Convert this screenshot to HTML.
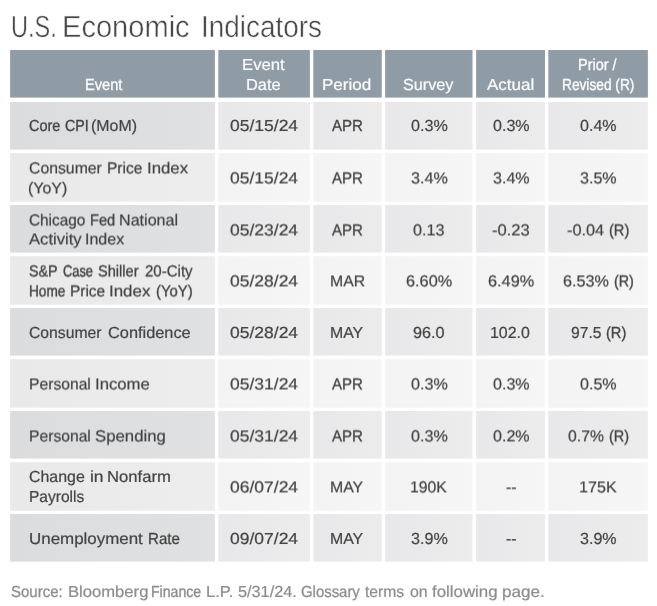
<!DOCTYPE html>
<html lang="en"><head><meta charset="utf-8"><title>U.S. Economic Indicators</title>
<style>
html,body{margin:0;padding:0;background:#fff;}
body{text-rendering:geometricPrecision;width:657px;height:606px;position:relative;overflow:hidden;font-family:"Liberation Sans", sans-serif;}
.bg{position:absolute;left:0;top:0;}
.tx{position:absolute;left:0;top:0;width:657px;height:606px;overflow:hidden;filter:url(#soft);}
.t2{filter:url(#soft2);}
.t{position:absolute;-webkit-text-stroke:0.2px currentColor;white-space:nowrap;display:inline-block;transform-origin:0 0;}
</style></head><body>
<svg width="0" height="0" style="position:absolute"><defs><filter id="soft" x="0" y="0" width="100%" height="100%" color-interpolation-filters="sRGB"><feConvolveMatrix order="3" kernelMatrix="0.0004 0.0194 0.0004 0.0194 0.9206 0.0194 0.0004 0.0194 0.0004" edgeMode="duplicate" preserveAlpha="false"/></filter><filter id="soft2" x="0" y="0" width="100%" height="100%" color-interpolation-filters="sRGB"><feConvolveMatrix order="3" kernelMatrix="0.0000 0.0000 0.0000 0.0111 0.5277 0.0111 0.0091 0.4318 0.0091" edgeMode="duplicate" preserveAlpha="false"/></filter></defs></svg>
<div class="tx">
<svg class="bg" width="657" height="606" viewBox="0 0 657 606"><defs><linearGradient id="a1" x1="0" y1="0" x2="1" y2="0"><stop offset="0" stop-color="#dbdcde"/><stop offset="1" stop-color="#e0e1e3"/></linearGradient><linearGradient id="a2" x1="0" y1="0" x2="1" y2="0"><stop offset="0" stop-color="#e8e8ea"/><stop offset="1" stop-color="#ececed"/></linearGradient><linearGradient id="b1" x1="0" y1="0" x2="1" y2="0"><stop offset="0" stop-color="#e9e9ea"/><stop offset="1" stop-color="#ededee"/></linearGradient><linearGradient id="b2" x1="0" y1="0" x2="1" y2="0"><stop offset="0" stop-color="#f3f3f4"/><stop offset="1" stop-color="#f6f6f6"/></linearGradient></defs>
<rect x="10.1" y="50.0" width="204.8" height="47.6" fill="#8f9ca6"/>
<rect x="218.3" y="50.0" width="91.6" height="47.6" fill="#8f9ca6"/>
<rect x="313.3" y="50.0" width="68.5" height="47.6" fill="#8f9ca6"/>
<rect x="385.1" y="50.0" width="87.4" height="47.6" fill="#8f9ca6"/>
<rect x="476.1" y="50.0" width="68.9" height="47.6" fill="#8f9ca6"/>
<rect x="548.3" y="50.0" width="99.6" height="47.6" fill="#8f9ca6"/>
<rect x="10.1" y="102.0" width="204.8" height="47.6" fill="url(#a1)"/>
<rect x="218.3" y="102.0" width="91.6" height="47.6" fill="url(#a2)"/>
<rect x="313.3" y="102.0" width="68.5" height="47.6" fill="url(#a2)"/>
<rect x="385.1" y="102.0" width="87.4" height="47.6" fill="url(#a2)"/>
<rect x="476.1" y="102.0" width="68.9" height="47.6" fill="url(#a2)"/>
<rect x="548.3" y="102.0" width="99.6" height="47.6" fill="url(#a2)"/>
<rect x="10.1" y="153.2" width="204.8" height="48.5" fill="url(#b1)"/>
<rect x="218.3" y="153.2" width="91.6" height="48.5" fill="url(#b2)"/>
<rect x="313.3" y="153.2" width="68.5" height="48.5" fill="url(#b2)"/>
<rect x="385.1" y="153.2" width="87.4" height="48.5" fill="url(#b2)"/>
<rect x="476.1" y="153.2" width="68.9" height="48.5" fill="url(#b2)"/>
<rect x="548.3" y="153.2" width="99.6" height="48.5" fill="url(#b2)"/>
<rect x="10.1" y="205.0" width="204.8" height="47.6" fill="url(#a1)"/>
<rect x="218.3" y="205.0" width="91.6" height="47.6" fill="url(#a2)"/>
<rect x="313.3" y="205.0" width="68.5" height="47.6" fill="url(#a2)"/>
<rect x="385.1" y="205.0" width="87.4" height="47.6" fill="url(#a2)"/>
<rect x="476.1" y="205.0" width="68.9" height="47.6" fill="url(#a2)"/>
<rect x="548.3" y="205.0" width="99.6" height="47.6" fill="url(#a2)"/>
<rect x="10.1" y="256.2" width="204.8" height="48.5" fill="url(#b1)"/>
<rect x="218.3" y="256.2" width="91.6" height="48.5" fill="url(#b2)"/>
<rect x="313.3" y="256.2" width="68.5" height="48.5" fill="url(#b2)"/>
<rect x="385.1" y="256.2" width="87.4" height="48.5" fill="url(#b2)"/>
<rect x="476.1" y="256.2" width="68.9" height="48.5" fill="url(#b2)"/>
<rect x="548.3" y="256.2" width="99.6" height="48.5" fill="url(#b2)"/>
<rect x="10.1" y="308.0" width="204.8" height="47.6" fill="url(#a1)"/>
<rect x="218.3" y="308.0" width="91.6" height="47.6" fill="url(#a2)"/>
<rect x="313.3" y="308.0" width="68.5" height="47.6" fill="url(#a2)"/>
<rect x="385.1" y="308.0" width="87.4" height="47.6" fill="url(#a2)"/>
<rect x="476.1" y="308.0" width="68.9" height="47.6" fill="url(#a2)"/>
<rect x="548.3" y="308.0" width="99.6" height="47.6" fill="url(#a2)"/>
<rect x="10.1" y="359.2" width="204.8" height="48.5" fill="url(#b1)"/>
<rect x="218.3" y="359.2" width="91.6" height="48.5" fill="url(#b2)"/>
<rect x="313.3" y="359.2" width="68.5" height="48.5" fill="url(#b2)"/>
<rect x="385.1" y="359.2" width="87.4" height="48.5" fill="url(#b2)"/>
<rect x="476.1" y="359.2" width="68.9" height="48.5" fill="url(#b2)"/>
<rect x="548.3" y="359.2" width="99.6" height="48.5" fill="url(#b2)"/>
<rect x="10.1" y="411.0" width="204.8" height="47.6" fill="url(#a1)"/>
<rect x="218.3" y="411.0" width="91.6" height="47.6" fill="url(#a2)"/>
<rect x="313.3" y="411.0" width="68.5" height="47.6" fill="url(#a2)"/>
<rect x="385.1" y="411.0" width="87.4" height="47.6" fill="url(#a2)"/>
<rect x="476.1" y="411.0" width="68.9" height="47.6" fill="url(#a2)"/>
<rect x="548.3" y="411.0" width="99.6" height="47.6" fill="url(#a2)"/>
<rect x="10.1" y="462.2" width="204.8" height="48.5" fill="url(#b1)"/>
<rect x="218.3" y="462.2" width="91.6" height="48.5" fill="url(#b2)"/>
<rect x="313.3" y="462.2" width="68.5" height="48.5" fill="url(#b2)"/>
<rect x="385.1" y="462.2" width="87.4" height="48.5" fill="url(#b2)"/>
<rect x="476.1" y="462.2" width="68.9" height="48.5" fill="url(#b2)"/>
<rect x="548.3" y="462.2" width="99.6" height="48.5" fill="url(#b2)"/>
<rect x="10.1" y="514.0" width="204.8" height="47.6" fill="url(#a1)"/>
<rect x="218.3" y="514.0" width="91.6" height="47.6" fill="url(#a2)"/>
<rect x="313.3" y="514.0" width="68.5" height="47.6" fill="url(#a2)"/>
<rect x="385.1" y="514.0" width="87.4" height="47.6" fill="url(#a2)"/>
<rect x="476.1" y="514.0" width="68.9" height="47.6" fill="url(#a2)"/>
<rect x="548.3" y="514.0" width="99.6" height="47.6" fill="url(#a2)"/>
</svg>
<span class="t" style="-webkit-text-stroke:0.45px #fff;left:11.36px;top:9.00px;font-size:30.5px;line-height:36px;color:#454545;transform:scaleX(0.7713)">U.S.</span>
<span class="t" style="-webkit-text-stroke:0.45px #fff;left:62.29px;top:9.00px;font-size:30.5px;line-height:36px;color:#454545;transform:scaleX(0.9532)">Economic</span>
<span class="t" style="-webkit-text-stroke:0.45px #fff;left:200.87px;top:9.00px;font-size:30.5px;line-height:36px;color:#454545;transform:scaleX(0.9155)">Indicators</span>
<span class="t" style="-webkit-text-stroke-width:0.30px;left:85.49px;top:76.00px;font-size:16px;line-height:20px;color:#fdfdfe;transform:scaleX(0.9143)">Event</span>
<span class="t" style="left:241.76px;top:56.00px;font-size:16px;line-height:20px;color:#fdfdfe;transform:scaleX(1.0428)">Event</span>
<span class="t" style="left:246.27px;top:76.00px;font-size:16px;line-height:20px;color:#fdfdfe;transform:scaleX(1.0274)">Date</span>
<span class="t" style="left:322.44px;top:76.00px;font-size:16px;line-height:20px;color:#fdfdfe;transform:scaleX(1.0642)">Period</span>
<span class="t" style="left:403.40px;top:76.00px;font-size:16px;line-height:20px;color:#fdfdfe;transform:scaleX(1.0121)">Survey</span>
<span class="t" style="left:487.30px;top:76.00px;font-size:16px;line-height:20px;color:#fdfdfe;transform:scaleX(1.0612)">Actual</span>
<span class="t" style="-webkit-text-stroke-width:0.31px;left:577.90px;top:56.00px;font-size:16px;line-height:20px;color:#fdfdfe;transform:scaleX(0.9046)">Prior /</span>
<span class="t" style="-webkit-text-stroke-width:0.37px;left:561.74px;top:76.00px;font-size:16px;line-height:20px;color:#fdfdfe;transform:scaleX(0.8565)">Revised (R)</span>
<span class="t" style="-webkit-text-stroke-width:0.32px;left:29.00px;top:117.00px;font-size:16px;line-height:20px;color:#404040;transform:scaleX(0.9028)">Core</span>
<span class="t" style="-webkit-text-stroke-width:0.34px;left:64.80px;top:117.00px;font-size:16px;line-height:20px;color:#404040;transform:scaleX(0.8840)">CPI</span>
<span class="t" style="left:91.01px;top:117.00px;font-size:16px;line-height:20px;color:#404040;transform:scaleX(0.9937)">(MoM)</span>
<span class="t" style="left:229.65px;top:117.00px;font-size:16px;line-height:20px;color:#404040;transform:scaleX(1.0932)">05/15/24</span>
<span class="t" style="-webkit-text-stroke-width:0.27px;left:332.15px;top:117.00px;font-size:16px;line-height:20px;color:#404040;transform:scaleX(0.9399)">APR</span>
<span class="t" style="left:410.55px;top:117.00px;font-size:16px;line-height:20px;color:#404040;transform:scaleX(1.0099)">0.3%</span>
<span class="t" style="left:492.60px;top:117.00px;font-size:16px;line-height:20px;color:#404040;transform:scaleX(1.0044)">0.3%</span>
<span class="t" style="left:580.05px;top:117.00px;font-size:16px;line-height:20px;color:#404040;transform:scaleX(1.0044)">0.4%</span>
<span class="t" style="left:29.00px;top:324.00px;font-size:16px;line-height:20px;color:#404040;transform:scaleX(0.9829)">Consumer</span>
<span class="t" style="left:108.20px;top:324.00px;font-size:16px;line-height:20px;color:#404040;transform:scaleX(1.0216)">Confidence</span>
<span class="t" style="left:229.65px;top:324.00px;font-size:16px;line-height:20px;color:#404040;transform:scaleX(1.0932)">05/28/24</span>
<span class="t" style="left:330.11px;top:324.00px;font-size:16px;line-height:20px;color:#404040;transform:scaleX(0.9905)">MAY</span>
<span class="t" style="left:413.00px;top:324.00px;font-size:16px;line-height:20px;color:#404040;transform:scaleX(1.0147)">96.0</span>
<span class="t" style="left:490.30px;top:324.00px;font-size:16px;line-height:20px;color:#404040;transform:scaleX(0.9964)">102.0</span>
<span class="t" style="left:570.60px;top:324.00px;font-size:16px;line-height:20px;color:#404040;transform:scaleX(0.9794)">97.5</span>
<span class="t" style="-webkit-text-stroke-width:0.30px;left:606.09px;top:324.00px;font-size:16px;line-height:20px;color:#404040;transform:scaleX(0.9146)">(R)</span>
<span class="t" style="left:29.00px;top:468.00px;font-size:16px;line-height:20px;color:#404040;transform:scaleX(0.9956)">Change</span>
<span class="t" style="left:89.61px;top:468.00px;font-size:16px;line-height:20px;color:#404040;transform:scaleX(1.0896)">in</span>
<span class="t" style="left:107.16px;top:468.00px;font-size:16px;line-height:20px;color:#404040;transform:scaleX(1.0413)">Nonfarm</span>
<span class="t" style="left:28.63px;top:488.00px;font-size:16px;line-height:20px;color:#404040;transform:scaleX(0.9713)">Payrolls</span>
<span class="t" style="left:28.94px;top:530.00px;font-size:16px;line-height:20px;color:#404040;transform:scaleX(1.0573)">Unemployment</span>
<span class="t" style="-webkit-text-stroke-width:0.27px;left:147.86px;top:530.00px;font-size:16px;line-height:20px;color:#404040;transform:scaleX(0.9423)">Rate</span>
<span class="t" style="left:229.65px;top:530.00px;font-size:16px;line-height:20px;color:#404040;transform:scaleX(1.0932)">09/07/24</span>
<span class="t" style="left:330.11px;top:530.00px;font-size:16px;line-height:20px;color:#404040;transform:scaleX(0.9905)">MAY</span>
<span class="t" style="left:410.55px;top:530.00px;font-size:16px;line-height:20px;color:#404040;transform:scaleX(1.0099)">3.9%</span>
<span class="t" style="left:505.65px;top:530.00px;font-size:16px;line-height:20px;color:#404040;transform:scaleX(0.9973)">--</span>
<span class="t" style="left:580.05px;top:530.00px;font-size:16px;line-height:20px;color:#404040;transform:scaleX(1.0044)">3.9%</span>
<span class="t" style="-webkit-text-stroke-width:0.28px;left:11.00px;top:583.00px;font-size:16px;line-height:20px;color:#8a8a8a;transform:scaleX(0.9368)">Source:</span>
<span class="t" style="left:67.66px;top:583.00px;font-size:16px;line-height:20px;color:#8a8a8a;transform:scaleX(1.0387)">Bloomberg</span>
<span class="t" style="-webkit-text-stroke-width:0.34px;left:151.12px;top:583.00px;font-size:16px;line-height:20px;color:#8a8a8a;transform:scaleX(0.8818)">Finance</span>
<span class="t" style="left:206.17px;top:583.00px;font-size:16px;line-height:20px;color:#8a8a8a;transform:scaleX(1.0312)">L.P.</span>
<span class="t" style="left:237.70px;top:583.00px;font-size:16px;line-height:20px;color:#8a8a8a;transform:scaleX(1.0163)">5/31/24.</span>
<span class="t" style="-webkit-text-stroke-width:0.28px;left:301.20px;top:583.00px;font-size:16px;line-height:20px;color:#8a8a8a;transform:scaleX(0.9315)">Glossary</span>
<span class="t" style="left:365.00px;top:583.00px;font-size:16px;line-height:20px;color:#8a8a8a;transform:scaleX(0.9800)">terms</span>
<span class="t" style="left:410.00px;top:583.00px;font-size:16px;line-height:20px;color:#8a8a8a;transform:scaleX(0.9942)">on</span>
<span class="t" style="left:432.40px;top:583.00px;font-size:16px;line-height:20px;color:#8a8a8a;transform:scaleX(1.0528)">following</span>
<span class="t" style="left:501.53px;top:583.00px;font-size:16px;line-height:20px;color:#8a8a8a;transform:scaleX(1.0667)">page.</span>
</div>
<div class="tx t2">
<span class="t" style="left:29.00px;top:159.00px;font-size:16px;line-height:20px;color:#404040;transform:scaleX(0.9869)">Consumer</span>
<span class="t" style="-webkit-text-stroke-width:0.24px;left:107.43px;top:159.00px;font-size:16px;line-height:20px;color:#404040;transform:scaleX(0.9675)">Price</span>
<span class="t" style="left:146.55px;top:159.00px;font-size:16px;line-height:20px;color:#404040;transform:scaleX(1.0488)">Index</span>
<span class="t" style="left:28.01px;top:179.00px;font-size:16px;line-height:20px;color:#404040;transform:scaleX(0.9947)">(YoY)</span>
<span class="t" style="left:229.65px;top:169.00px;font-size:16px;line-height:20px;color:#404040;transform:scaleX(1.0932)">05/15/24</span>
<span class="t" style="-webkit-text-stroke-width:0.27px;left:332.15px;top:169.00px;font-size:16px;line-height:20px;color:#404040;transform:scaleX(0.9399)">APR</span>
<span class="t" style="left:410.55px;top:169.00px;font-size:16px;line-height:20px;color:#404040;transform:scaleX(1.0099)">3.4%</span>
<span class="t" style="left:492.60px;top:169.00px;font-size:16px;line-height:20px;color:#404040;transform:scaleX(1.0044)">3.4%</span>
<span class="t" style="left:580.05px;top:169.00px;font-size:16px;line-height:20px;color:#404040;transform:scaleX(1.0044)">3.5%</span>
<span class="t" style="-webkit-text-stroke-width:0.25px;left:29.00px;top:211.00px;font-size:16px;line-height:20px;color:#404040;transform:scaleX(0.9591)">Chicago</span>
<span class="t" style="-webkit-text-stroke-width:0.30px;left:90.08px;top:211.00px;font-size:16px;line-height:20px;color:#404040;transform:scaleX(0.9154)">Fed</span>
<span class="t" style="left:118.99px;top:211.00px;font-size:16px;line-height:20px;color:#404040;transform:scaleX(1.0062)">National</span>
<span class="t" style="left:28.60px;top:230.00px;font-size:16px;line-height:20px;color:#404040;transform:scaleX(1.0381)">Activity</span>
<span class="t" style="left:85.00px;top:230.00px;font-size:16px;line-height:20px;color:#404040;transform:scaleX(1.0016)">Index</span>
<span class="t" style="left:229.65px;top:221.00px;font-size:16px;line-height:20px;color:#404040;transform:scaleX(1.0932)">05/23/24</span>
<span class="t" style="-webkit-text-stroke-width:0.27px;left:332.15px;top:221.00px;font-size:16px;line-height:20px;color:#404040;transform:scaleX(0.9399)">APR</span>
<span class="t" style="left:413.00px;top:221.00px;font-size:16px;line-height:20px;color:#404040;transform:scaleX(1.0147)">0.13</span>
<span class="t" style="left:491.90px;top:221.00px;font-size:16px;line-height:20px;color:#404040;transform:scaleX(1.0336)">-0.23</span>
<span class="t" style="left:567.00px;top:221.00px;font-size:16px;line-height:20px;color:#404040;transform:scaleX(1.0200)">-0.04</span>
<span class="t" style="-webkit-text-stroke-width:0.30px;left:609.49px;top:221.00px;font-size:16px;line-height:20px;color:#404040;transform:scaleX(0.9146)">(R)</span>
<span class="t" style="-webkit-text-stroke-width:0.33px;left:29.00px;top:262.00px;font-size:16px;line-height:20px;color:#404040;transform:scaleX(0.8933)">S&amp;P</span>
<span class="t" style="-webkit-text-stroke-width:0.44px;left:62.50px;top:262.00px;font-size:16px;line-height:20px;color:#404040;transform:scaleX(0.8037)">Case</span>
<span class="t" style="-webkit-text-stroke-width:0.31px;left:98.10px;top:262.00px;font-size:16px;line-height:20px;color:#404040;transform:scaleX(0.9106)">Shiller</span>
<span class="t" style="-webkit-text-stroke-width:0.27px;left:144.50px;top:262.00px;font-size:16px;line-height:20px;color:#404040;transform:scaleX(0.9392)">20-City</span>
<span class="t" style="-webkit-text-stroke-width:0.38px;left:28.75px;top:282.00px;font-size:16px;line-height:20px;color:#404040;transform:scaleX(0.8521)">Home</span>
<span class="t" style="-webkit-text-stroke-width:0.24px;left:70.24px;top:282.00px;font-size:16px;line-height:20px;color:#404040;transform:scaleX(0.9647)">Price</span>
<span class="t" style="left:109.34px;top:282.00px;font-size:16px;line-height:20px;color:#404040;transform:scaleX(1.0566)">Index</span>
<span class="t" style="-webkit-text-stroke-width:0.29px;left:155.67px;top:282.00px;font-size:16px;line-height:20px;color:#404040;transform:scaleX(0.9291)">(YoY)</span>
<span class="t" style="left:229.65px;top:272.00px;font-size:16px;line-height:20px;color:#404040;transform:scaleX(1.0932)">05/28/24</span>
<span class="t" style="left:329.61px;top:272.00px;font-size:16px;line-height:20px;color:#404040;transform:scaleX(0.9853)">MAR</span>
<span class="t" style="left:405.85px;top:272.00px;font-size:16px;line-height:20px;color:#404040;transform:scaleX(1.0190)">6.60%</span>
<span class="t" style="left:487.80px;top:272.00px;font-size:16px;line-height:20px;color:#404040;transform:scaleX(1.0190)">6.49%</span>
<span class="t" style="left:562.90px;top:272.00px;font-size:16px;line-height:20px;color:#404040;transform:scaleX(1.0124)">6.53%</span>
<span class="t" style="-webkit-text-stroke-width:0.33px;left:613.80px;top:272.00px;font-size:16px;line-height:20px;color:#404040;transform:scaleX(0.8955)">(R)</span>
<span class="t" style="left:28.62px;top:375.00px;font-size:16px;line-height:20px;color:#404040;transform:scaleX(0.9790)">Personal</span>
<span class="t" style="left:94.85px;top:375.00px;font-size:16px;line-height:20px;color:#404040;transform:scaleX(1.0452)">Income</span>
<span class="t" style="left:229.65px;top:375.00px;font-size:16px;line-height:20px;color:#404040;transform:scaleX(1.0932)">05/31/24</span>
<span class="t" style="-webkit-text-stroke-width:0.27px;left:332.15px;top:375.00px;font-size:16px;line-height:20px;color:#404040;transform:scaleX(0.9399)">APR</span>
<span class="t" style="left:410.55px;top:375.00px;font-size:16px;line-height:20px;color:#404040;transform:scaleX(1.0099)">0.3%</span>
<span class="t" style="left:492.60px;top:375.00px;font-size:16px;line-height:20px;color:#404040;transform:scaleX(1.0044)">0.3%</span>
<span class="t" style="left:580.05px;top:375.00px;font-size:16px;line-height:20px;color:#404040;transform:scaleX(1.0044)">0.5%</span>
<span class="t" style="left:28.62px;top:427.00px;font-size:16px;line-height:20px;color:#404040;transform:scaleX(0.9790)">Personal</span>
<span class="t" style="left:95.30px;top:427.00px;font-size:16px;line-height:20px;color:#404040;transform:scaleX(1.0477)">Spending</span>
<span class="t" style="left:229.65px;top:427.00px;font-size:16px;line-height:20px;color:#404040;transform:scaleX(1.0932)">05/31/24</span>
<span class="t" style="-webkit-text-stroke-width:0.27px;left:332.15px;top:427.00px;font-size:16px;line-height:20px;color:#404040;transform:scaleX(0.9399)">APR</span>
<span class="t" style="left:410.55px;top:427.00px;font-size:16px;line-height:20px;color:#404040;transform:scaleX(1.0099)">0.3%</span>
<span class="t" style="left:492.60px;top:427.00px;font-size:16px;line-height:20px;color:#404040;transform:scaleX(1.0044)">0.2%</span>
<span class="t" style="left:568.30px;top:427.00px;font-size:16px;line-height:20px;color:#404040;transform:scaleX(0.9850)">0.7%</span>
<span class="t" style="-webkit-text-stroke-width:0.31px;left:608.89px;top:427.00px;font-size:16px;line-height:20px;color:#404040;transform:scaleX(0.9051)">(R)</span>
<span class="t" style="left:229.65px;top:478.00px;font-size:16px;line-height:20px;color:#404040;transform:scaleX(1.0932)">06/07/24</span>
<span class="t" style="left:330.11px;top:478.00px;font-size:16px;line-height:20px;color:#404040;transform:scaleX(0.9905)">MAY</span>
<span class="t" style="left:409.76px;top:478.00px;font-size:16px;line-height:20px;color:#404040;transform:scaleX(0.9865)">190K</span>
<span class="t" style="left:505.65px;top:478.00px;font-size:16px;line-height:20px;color:#404040;transform:scaleX(0.9973)">--</span>
<span class="t" style="left:578.74px;top:478.00px;font-size:16px;line-height:20px;color:#404040;transform:scaleX(1.0083)">175K</span>
</div>
</body></html>
